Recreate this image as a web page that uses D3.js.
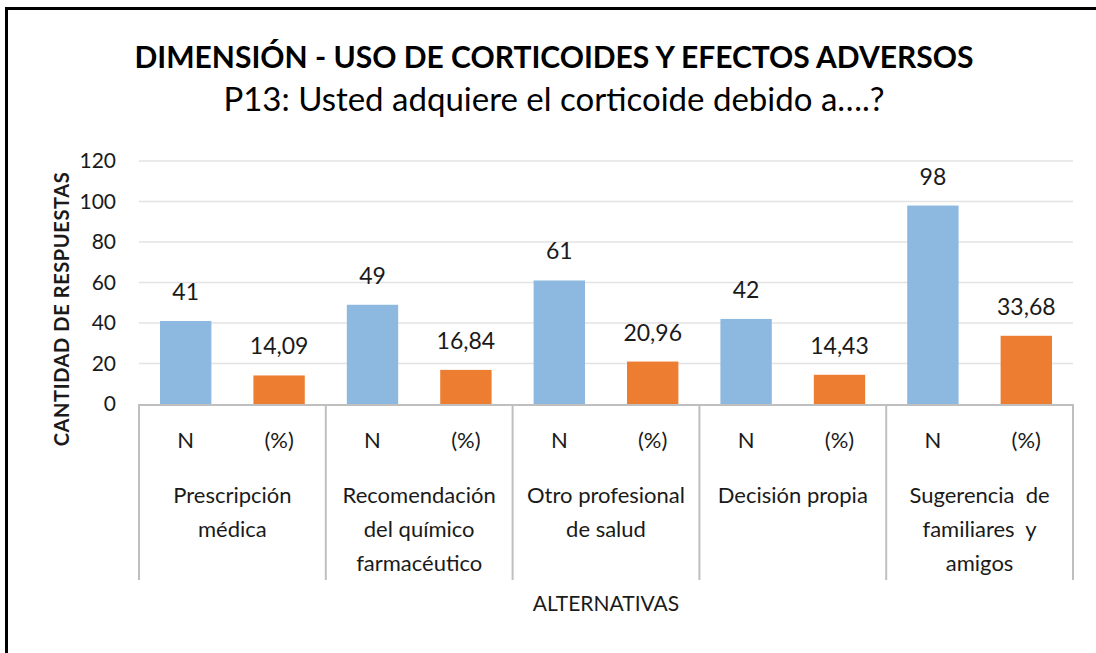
<!DOCTYPE html>
<html>
<head>
<meta charset="utf-8">
<script src="https://cdn.jsdelivr.net/npm/d3@7"></script>
<style>
  body { margin: 0; background: #fff; }
  text { font-family: Lato, "Open Sans", sans-serif; fill: #1a1a1a; }
</style>
</head>
<body>
<svg id="chart" width="1096" height="653"></svg>
<script>
const categories = ["Prescripción médica", "Recomendación del químico farmacéutico", "Otro profesional de salud", "Decisión propia", "Sugerencia de familiares y amigos"];
const categoryLines = [
  ["Prescripción", "médica"],
  ["Recomendación", "del químico", "farmacéutico"],
  ["Otro profesional", "de salud"],
  ["Decisión propia"],
  ["Sugerencia  de", "familiares  y", "amigos"]
];
const subLabels = ["N", "(%)"];
const valuesN = [41, 49, 61, 42, 98];
const valuesPct = [14.09, 16.84, 20.96, 14.43, 33.68];
const yTicks = [0, 20, 40, 60, 80, 100, 120];

const svg = d3.select("#chart");
const plotLeft = 139, plotRight = 1073, plotTop = 161, plotBottom = 404;
const axisBottom = 580;
const fmt = v => Number.isInteger(v) ? String(v) : v.toFixed(2).replace(".", ",");

// frame (only left and top edges are visible)
svg.append("line").attr("x1", 6.5).attr("y1", 8.5).attr("x2", 1096).attr("y2", 8.5)
  .attr("stroke", "#000").attr("stroke-width", 3);
svg.append("line").attr("x1", 6.5).attr("y1", 7).attr("x2", 6.5).attr("y2", 653)
  .attr("stroke", "#000").attr("stroke-width", 3);

const x0 = d3.scaleBand().domain(categories).range([plotLeft, plotRight]).padding(0);
const x1 = d3.scaleBand().domain(subLabels).range([0, x0.bandwidth()])
  .paddingInner(0.45).paddingOuter(0.225);
const y = d3.scaleLinear().domain([0, 120]).range([plotBottom, plotTop]);

// gridlines
svg.append("g").selectAll("line").data(yTicks.filter(d => d > 0)).enter().append("line")
  .attr("x1", plotLeft).attr("x2", plotRight)
  .attr("y1", d => y(d)).attr("y2", d => y(d))
  .attr("stroke", "#e3e3e3").attr("stroke-width", 1.5);

// y tick labels
svg.append("g").selectAll("text").data(yTicks).enter().append("text")
  .attr("x", 116).attr("y", d => y(d)).attr("dy", "0.35em")
  .attr("text-anchor", "end").style("font-size", "21px")
  .text(d => d);

// bars
const rows = categories.map((c, i) => ({cat: c, vals: [
  {key: "N", v: valuesN[i], color: "#8db8e0"},
  {key: "(%)", v: valuesPct[i], color: "#ed7d31"}
]}));

const groups = svg.append("g").selectAll("g").data(rows).enter().append("g")
  .attr("transform", d => "translate(" + x0(d.cat) + ",0)");

groups.selectAll("rect").data(d => d.vals).enter().append("rect")
  .attr("x", d => x1(d.key)).attr("width", x1.bandwidth())
  .attr("y", d => y(d.v)).attr("height", d => y(0) - y(d.v))
  .attr("fill", d => d.color);

groups.selectAll("text.val").data(d => d.vals).enter().append("text")
  .attr("class", "val")
  .attr("x", d => x1(d.key) + x1.bandwidth() / 2)
  .attr("y", d => y(d.v) - 21)
  .attr("text-anchor", "middle").style("font-size", "23px")
  .text(d => fmt(d.v));

// x axis: baseline and group dividers
svg.append("line").attr("x1", plotLeft).attr("x2", plotRight)
  .attr("y1", plotBottom + 1).attr("y2", plotBottom + 1)
  .attr("stroke", "#bfbfbf").attr("stroke-width", 2);
svg.append("g").selectAll("line").data(categories.concat([null])).enter().append("line")
  .attr("x1", d => d === null ? plotRight : x0(d))
  .attr("x2", d => d === null ? plotRight : x0(d))
  .attr("y1", plotBottom).attr("y2", axisBottom)
  .attr("stroke", "#bfbfbf").attr("stroke-width", 2);

// sub labels N / (%)
groups.selectAll("text.sub").data(subLabels).enter().append("text")
  .attr("class", "sub")
  .attr("x", d => x1(d) + x1.bandwidth() / 2)
  .attr("y", 440).attr("dy", "0.35em")
  .attr("text-anchor", "middle").style("font-size", "22px")
  .text(d => d);

// category labels
groups.each(function(d, i) {
  d3.select(this).selectAll("text.cat").data(categoryLines[i]).enter().append("text")
    .attr("class", "cat")
    .attr("x", x0.bandwidth() / 2)
    .attr("y", (t, j) => 495 + j * 34).attr("dy", "0.35em")
    .attr("text-anchor", "middle").style("font-size", "22px")
    .style("white-space", "pre")
    .text(t => t);
});

// axis titles
svg.append("text").attr("x", (plotLeft + plotRight) / 2).attr("y", 604).attr("dy", "0.35em")
  .attr("text-anchor", "middle").style("font-size", "21px").text("ALTERNATIVAS");

svg.append("text").attr("transform", "translate(62,309) rotate(-90)").attr("dy", "0.35em")
  .attr("text-anchor", "middle").style("font-size", "20px").style("font-weight", "bold")
  .style("letter-spacing", "0.6px")
  .text("CANTIDAD DE RESPUESTAS");

// chart titles
svg.append("text").attr("x", 554).attr("y", 68)
  .attr("text-anchor", "middle").style("font-size", "30px").style("font-weight", "bold")
  .style("fill", "#000")
  .text("DIMENSIÓN - USO DE CORTICOIDES Y EFECTOS ADVERSOS");
svg.append("text").attr("x", 554).attr("y", 111)
  .attr("text-anchor", "middle").style("font-size", "33px")
  .style("fill", "#000")
  .text("P13: Usted adquiere el corticoide debido a….?");
</script>
</body>
</html>
